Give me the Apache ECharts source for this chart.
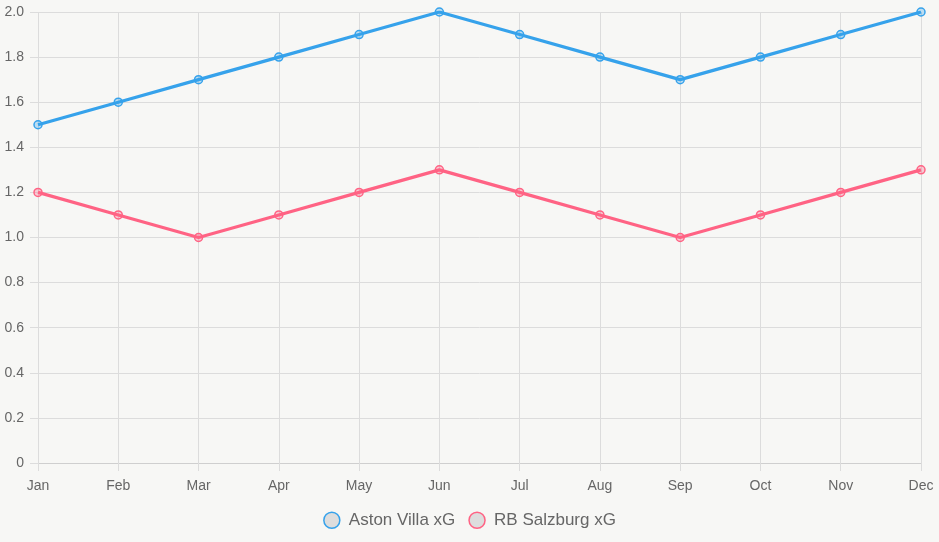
<!DOCTYPE html>
<html>
<head>
<meta charset="utf-8">
<script src="https://cdn.jsdelivr.net/npm/echarts@6/dist/echarts.min.js"></script>
<style>
  html, body { margin: 0; padding: 0; background: #f7f7f5; }
  #chart { width: 939px; height: 542px; }
</style>
</head>
<body>
<div id="chart"></div>
<script>
const meses = ['Jan','Feb','Mar','Apr','May','Jun','Jul','Aug','Sep','Oct','Nov','Dec'];
const astonVilla = [1.5, 1.6, 1.7, 1.8, 1.9, 2.0, 1.9, 1.8, 1.7, 1.8, 1.9, 2.0];
const salzburg = [1.2, 1.1, 1.0, 1.1, 1.2, 1.3, 1.2, 1.1, 1.0, 1.1, 1.2, 1.3];

const chart = echarts.init(document.getElementById('chart'));
const fuente = 'Liberation Sans, Arial, sans-serif';
const gris = '#dcdcdc';

function serie(nombre, datos, color, relleno) {
  return {
    name: nombre,
    type: 'line',
    data: datos,
    symbol: 'circle',
    symbolSize: 8,
    lineStyle: { color: color, width: 3.2 },
    itemStyle: { color: relleno, borderColor: color, borderWidth: 1.5 },
    emphasis: { disabled: true }
  };
}

chart.setOption({
  backgroundColor: '#f7f7f5',
  textStyle: { fontFamily: fuente },
  animation: false,
  legend: {
    bottom: 8,
    left: 'center',
    icon: 'circle',
    itemWidth: 16,
    itemHeight: 16,
    itemGap: 13,
    textStyle: { color: '#666', fontSize: 17, fontFamily: fuente, padding: [0, 0, 0, 4] },
    data: [
      { name: 'Aston Villa xG', itemStyle: { color: '#dddddd', borderColor: '#36a2eb', borderWidth: 1.5 } },
      { name: 'RB Salzburg xG', itemStyle: { color: '#dddddd', borderColor: '#ff6384', borderWidth: 1.5 } }
    ]
  },
  grid: { left: 38, right: 18, top: 12, bottom: 79, containLabel: false },
  xAxis: {
    type: 'category',
    data: meses,
    boundaryGap: false,
    axisLine: { show: true, lineStyle: { color: '#cfcfcf' } },
    axisTick: { show: true, length: 8, alignWithLabel: true, lineStyle: { color: gris } },
    axisLabel: { color: '#666', fontSize: 14, margin: 16, fontFamily: fuente },
    splitLine: { show: true, lineStyle: { color: gris } }
  },
  yAxis: {
    type: 'value',
    min: 0,
    max: 2.0,
    interval: 0.2,
    axisLine: { show: false },
    axisTick: { show: true, length: 8, lineStyle: { color: gris } },
    axisLabel: {
      color: '#666',
      fontSize: 14,
      margin: 14,
      fontFamily: fuente,
      formatter: v => (v === 0 ? '0' : v.toFixed(1))
    },
    splitLine: { lineStyle: { color: gris } }
  },
  series: [
    serie('Aston Villa xG', astonVilla, '#36a2eb', 'rgba(54,162,235,0.3)'),
    serie('RB Salzburg xG', salzburg, '#ff6384', 'rgba(255,99,132,0.3)')
  ]
});
</script>
</body>
</html>
